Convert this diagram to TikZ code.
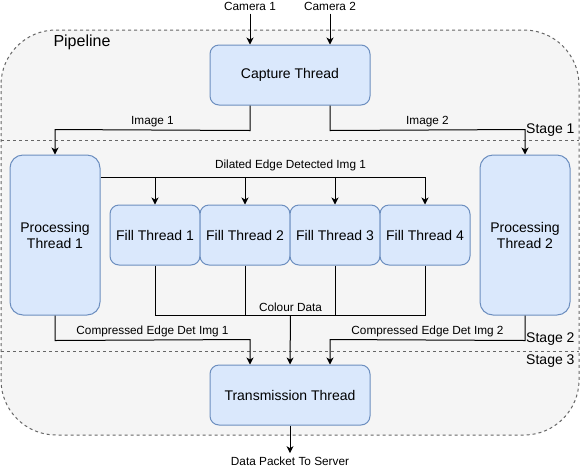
\documentclass[tikz,border=0pt]{standalone}
\usepackage{fontspec}
\setmainfont{Liberation Sans}
\usetikzlibrary{arrows.meta,positioning}
\definecolor{pipefill}{HTML}{F5F5F5}
\definecolor{pipeedge}{HTML}{666666}
\definecolor{threadfill}{HTML}{DAE8FC}
\definecolor{threadedge}{HTML}{6C8EBF}

\begin{document}
\begin{tikzpicture}[x = 1pt, y = -1pt, line width = 1pt,
  thread/.style = {draw = threadedge, fill = threadfill, shape = rectangle, rounded corners = 9pt, minimum width = 90pt, minimum height = 60pt, inner sep = 0pt, align = center, font = \fontsize{14}{16}\selectfont},
  lbl/.style = {font = \fontsize{11.8}{13}\selectfont, inner sep = 3pt},
  stage/.style = {font = \fontsize{14}{16}\selectfont, anchor = east, inner sep = 0pt},
  flow/.style = {draw, -{Stealth[length = 7pt, width = 7pt, inset = 2pt]}}]
\useasboundingbox (0,0) rectangle (584,467);
\draw[draw = pipeedge, fill = pipefill, dash pattern = on 3pt off 3pt, rounded corners = 55pt] (1,30) rectangle (579,435);
\begin{scope}[draw = pipeedge, dash pattern = on 3pt off 3pt]
\draw (1,140) -- (579,140);
\draw (1,351) -- (579,351);
\end{scope}
\node[font = \fontsize{16}{19}\selectfont, anchor = west, inner sep = 0pt] (pipe) at (53,42) {Pipeline};
\node[stage] (stage1) at (575,130) {Stage 1};
\node[stage] (stage2) at (575,339) {Stage 2};
\node[stage] (stage3) at (575,361) {Stage 3};

\node[thread, minimum width = 160pt] (capture) at (290,75) {Capture Thread};
\node[thread, minimum height = 160pt, rounded corners = 13pt] (proc1) at (55,235) {Processing\\Thread 1};
\node[thread, minimum height = 160pt, rounded corners = 13pt] (proc2) at (525,235) {Processing\\Thread 2};
\foreach \i/\x in {1/155, 2/245, 3/335, 4/425}
  \node[thread] (fill\i) at (\x,235) {Fill Thread \i};
\node[thread, minimum width = 160pt] (trans) at (290,395) {Transmission Thread};
\node[lbl] (cam1) at (250,6) {Camera 1};
\node[lbl] (cam2) at (330,6) {Camera 2};
\node[lbl] (packet) at (290,461) {Data Packet To Server};

\draw[flow] (cam1) -- (cam1 |- capture.north);
\draw[flow] (cam2) -- (cam2 |- capture.north);
\draw[flow] ([xshift = -40pt]capture.south) -- ++(0,25) -- node[lbl, above] (img1) {Image 1} ([yshift = 25pt]proc1.north) -- (proc1.north);
\draw[flow] ([xshift = 40pt]capture.south) -- ++(0,25) -- node[lbl, above] (img2) {Image 2} ([yshift = 25pt]proc2.north) -- (proc2.north);

\coordinate (dil) at ([yshift = -23pt]proc1.north east);
\draw[flow] (dil) -| (fill4.north);
\foreach \i in {1,2,3}
  \draw[flow] (dil -| fill\i.north) -- (fill\i.north);
\node[lbl, above, yshift = 3pt] (dillbl) at (dil -| fill2.north east) {Dilated Edge Detected Img 1};

\draw (fill1.south) -- (fill1.south |- proc1.south) -- (fill4.south |- proc1.south) -- (fill4.south);
\foreach \i in {2,3}
  \draw (fill\i.south) -- (fill\i.south |- proc1.south);
\node[lbl, above] (colourlbl) at (fill2.south east |- proc1.south) {Colour Data};
\draw[flow] (fill2.south east |- proc1.south) -- (trans.north);

\draw[flow] (proc1.south) -- ++(0,25) -- node[lbl, above] (comp1) {Compressed Edge Det Img 1} ([xshift = -40pt, yshift = 25pt]trans.north) -- ([xshift = -40pt]trans.north);
\draw[flow] (proc2.south) -- ++(0,25) -- node[lbl, above] (comp2) {Compressed Edge Det Img 2} ([xshift = 40pt, yshift = 25pt]trans.north) -- ([xshift = 40pt]trans.north);
\draw[flow] (trans.south) -- (packet.north);
\end{tikzpicture}
\end{document}
